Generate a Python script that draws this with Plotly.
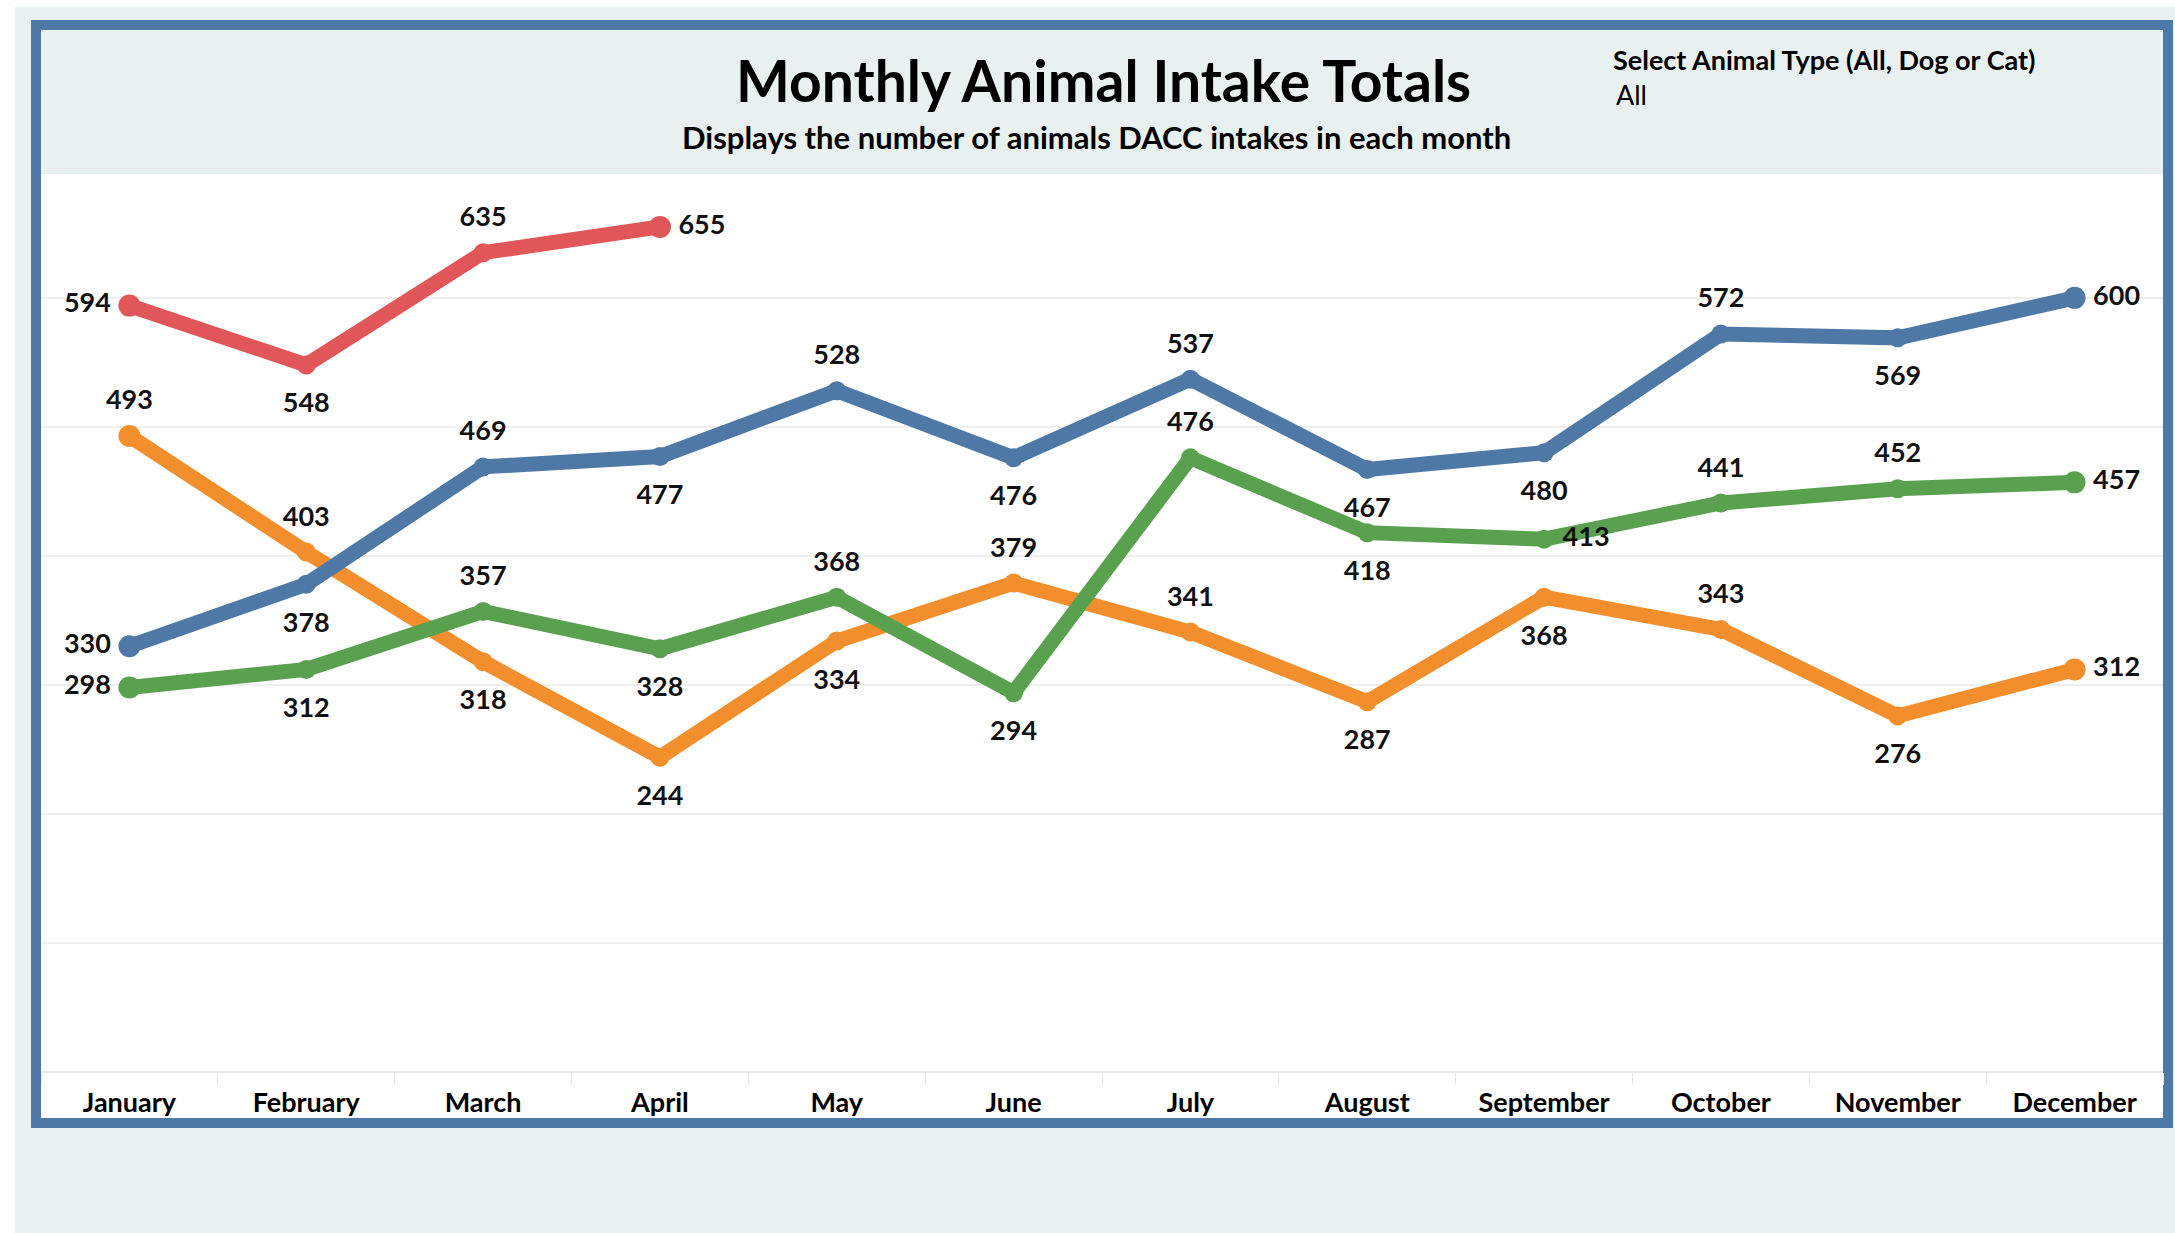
import plotly.graph_objects as go

# du lieu doc tu hinh
thang = ["January", "February", "March", "April", "May", "June",
         "July", "August", "September", "October", "November", "December"]

nam_do = [594, 548, 635, 655]  # chi co 4 thang dau
nam_xanh = [330, 378, 469, 477, 528, 476, 537, 467, 480, 572, 569, 600]
nam_cam = [493, 403, 318, 244, 334, 379, 341, 287, 368, 343, 276, 312]
nam_la = [298, 312, 357, 328, 368, 294, 476, 418, 413, 441, 452, 457]

W, H = 2175, 1233
NEN = "#e8f1ef"
VIEN = "#4e79a7"
FONT = "Lato"


def px(x):
    return x / W


def py(y):
    return 1 - y / H


# vi tri nhan cho tung diem
vt_do = ["middle left", "bottom center", "top center", "middle right"]
vt_xanh = ["middle left", "bottom center", "top center", "bottom center", "top center",
           "bottom center", "top center", "bottom center", "bottom center", "top center",
           "bottom center", "middle right"]
vt_cam = ["top center", "top center", "bottom center", "bottom center", "bottom center",
          "top center", "top center", "bottom center", "bottom center", "top center",
          "bottom center", "middle right"]
vt_la = ["middle left", "bottom center", "top center", "bottom center", "top center",
         "bottom center", "top center", "bottom center", "middle right", "top center",
         "top center", "middle right"]

# khoang cach nhan: marker an to/nho tuy vi tri
CO_AN = {"top center": 30, "bottom center": 42, "middle left": 28, "middle right": 28}


def kich_thuoc(n):
    # diem dau va cuoi to hon mot chut
    return [22 if i in (0, n - 1) else 19 for i in range(n)]


def them_duong(fig, y, ten, mau):
    fig.add_trace(go.Scatter(
        x=thang[:len(y)], y=y, name=ten,
        mode="lines+markers",
        line=dict(color=mau, width=15),
        marker=dict(color=mau, size=kich_thuoc(len(y)), opacity=1, line=dict(width=0)),
        hovertemplate="%{x}: %{y}<extra>" + ten + "</extra>",
    ))


def them_nhan(fig, y, vitri):
    # trace chi co chu, marker an de day nhan ra xa diem
    fig.add_trace(go.Scatter(
        x=thang[:len(y)], y=y,
        mode="markers+text",
        marker=dict(size=[CO_AN[v] for v in vitri], opacity=0),
        text=[str(v) for v in y],
        textposition=vitri,
        textfont=dict(family=FONT, size=27, color="#111111", weight=700),
        cliponaxis=False, hoverinfo="skip",
    ))


fig = go.Figure()
them_duong(fig, nam_cam, "2021", "#f28e2b")
them_duong(fig, nam_la, "2022", "#59a14f")
them_duong(fig, nam_xanh, "2023", "#4e79a7")
them_duong(fig, nam_do, "2024", "#e15759")
them_nhan(fig, nam_cam, vt_cam)
them_nhan(fig, nam_la, vt_la)
them_nhan(fig, nam_xanh, vt_xanh)
them_nhan(fig, nam_do, vt_do)

# nen, khung vien, dai tieu de
fig.add_shape(type="rect", xref="paper", yref="paper", layer="below",
              x0=px(15), x1=px(W), y0=py(H), y1=py(7),
              fillcolor=NEN, line=dict(width=0))
fig.add_shape(type="rect", xref="paper", yref="paper", layer="below",
              x0=px(36), x1=px(2168), y0=py(1123), y1=py(25),
              fillcolor="white", line=dict(color=VIEN, width=10))
fig.add_shape(type="rect", xref="paper", yref="paper", layer="below",
              x0=px(41), x1=px(2163), y0=py(174), y1=py(30),
              fillcolor=NEN, line=dict(width=0))

fig.add_annotation(text="Monthly Animal Intake Totals", xref="paper", yref="paper",
                   x=px(1103), y=py(80), showarrow=False, xanchor="center", yanchor="middle",
                   font=dict(family=FONT, size=57, color="black", weight=700))
fig.add_annotation(text="Displays the number of animals DACC intakes in each month",
                   xref="paper", yref="paper", x=px(1096), y=py(137), showarrow=False,
                   xanchor="center", yanchor="middle",
                   font=dict(family=FONT, size=31, color="black", weight=700))
fig.add_annotation(text="Select Animal Type (All, Dog or Cat)", xref="paper", yref="paper",
                   x=px(1611), y=py(59), showarrow=False, xanchor="left", yanchor="middle",
                   font=dict(family=FONT, size=27, color="black", weight=700))
fig.add_annotation(text="All", xref="paper", yref="paper",
                   x=px(1614), y=py(95), showarrow=False, xanchor="left", yanchor="middle",
                   font=dict(family=FONT, size=27, color="black"))

fig.update_layout(
    width=W, height=H,
    margin=dict(l=0, r=0, t=0, b=0),
    paper_bgcolor="white",
    plot_bgcolor="rgba(0,0,0,0)",
    showlegend=False,
    xaxis=dict(
        domain=[px(41), px(2163)],
        type="category", range=[-0.5, 11.5],
        showgrid=False, showline=False, zeroline=False,
        ticks="outside", tickson="boundaries", ticklen=12, tickcolor="#e6e6e6",
        ticklabelstandoff=12,
        tickfont=dict(family=FONT, size=27, color="black", weight=700),
    ),
    yaxis=dict(
        domain=[py(1072), py(174)],
        range=[0, 696],
        tickvals=[0, 100, 200, 300, 400, 500, 600],
        showticklabels=False, showline=False,
        showgrid=True, gridcolor="#efefef", gridwidth=2,
        zeroline=True, zerolinecolor="#e6e6e6", zerolinewidth=2,
    ),
)

fig.write_html("out.html", config={"displayModeBar": False},
               post_script="document.body.style.margin='0';")
